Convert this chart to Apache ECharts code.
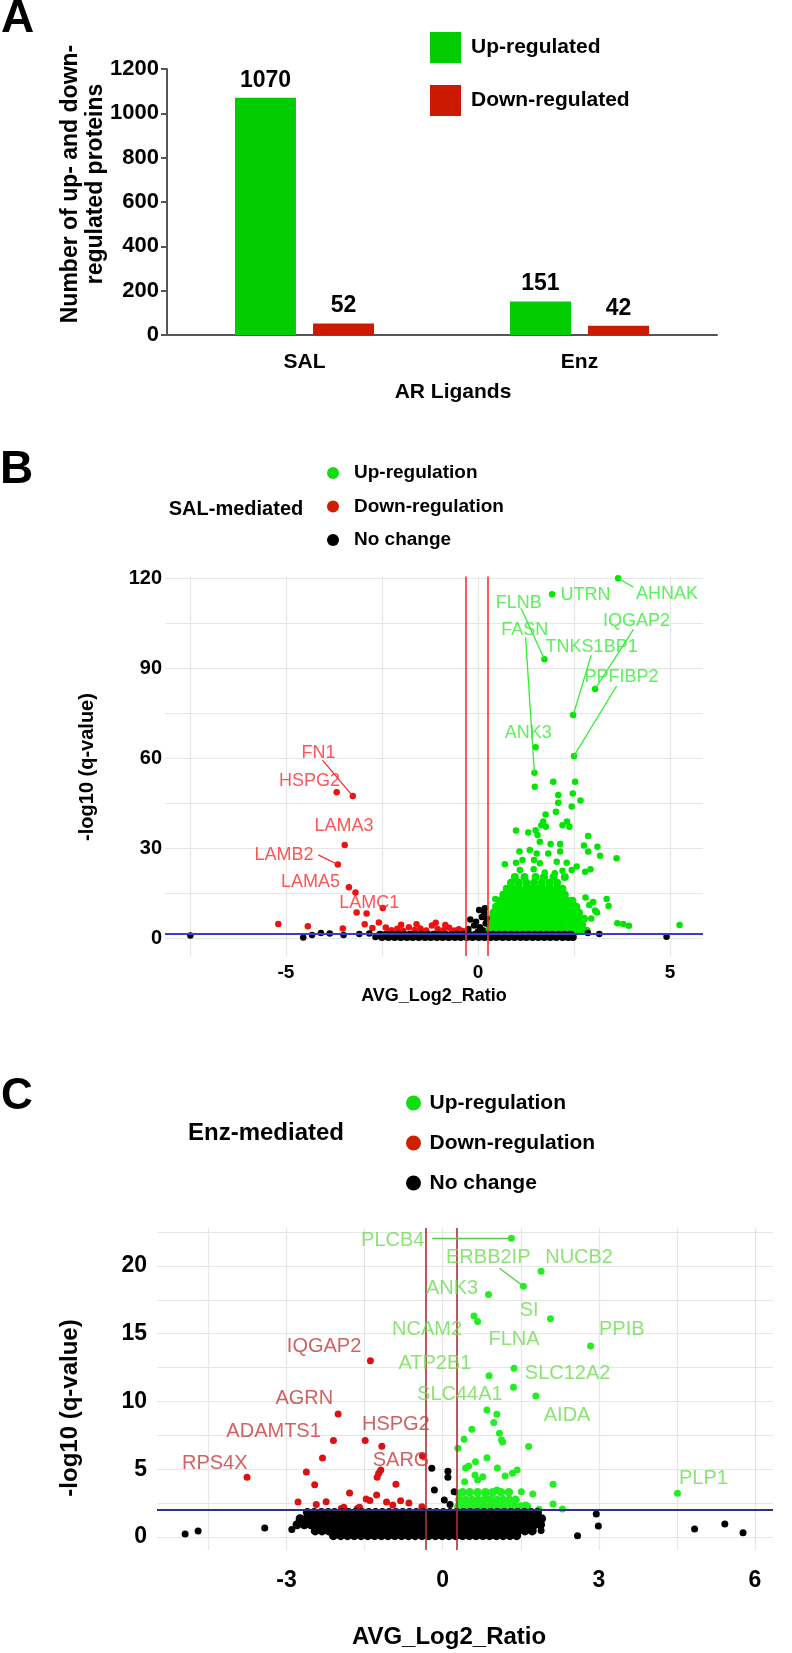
<!DOCTYPE html>
<html>
  <head>
    <meta charset="utf-8" />
    <title>AR ligand proteomics</title>
    <script src="https://cdn.jsdelivr.net/npm/echarts@6.0.0/dist/echarts.min.js"></script>
    <style>
      html, body { margin: 0; padding: 0; overflow: hidden; background: #fff; }
      #main { width: 792px; height: 1653px; }
    </style>
  </head>
  <body>
    <div id="main"></div>
    <script type="text/javascript">
      // ---- panel A : counts ----
      var ligands = ["SAL", "Enz"];
      var upCounts = [1070, 151];
      var downCounts = [52, 42];

      // ---- panel B : SAL volcano ----
      var upB = [
        [3.65, 119.9], [1.93, 114.6], [1.73, 92.9], [3.05, 83.0], [2.48, 74.3], [1.5, 63.6], [2.5, 60.7], [1.47, 55.1],
        [1.48, 50.4], [1.96, 52.1], [2.53, 52.1], [2.47, 48.2], [2.09, 47.7], [2.09, 45.1], [2.67, 45.8], [2.44, 43.8],
        [2.03, 42.1], [1.76, 41.2], [1.7, 38.8], [1.77, 37.1], [1.65, 37.6], [2.38, 37.1], [2.2, 37.6], [2.32, 38.8],
        [0.99, 35.8], [1.31, 35.2], [1.5, 35.9], [1.55, 34.3], [1.61, 32.1], [1.89, 31.3], [2.14, 31.3], [2.87, 34.0],
        [2.76, 30.8], [3.11, 30.4], [2.87, 28.8], [3.18, 27.4], [3.61, 26.6], [1.08, 28.8], [1.35, 29.3], [1.53, 28.2],
        [1.83, 28.2], [2.14, 28.8], [0.7, 24.6], [0.99, 25.1], [1.16, 26.0], [1.46, 26.0], [1.61, 24.9], [2.05, 25.4],
        [2.31, 25.1], [2.57, 23.8], [2.93, 22.9], [2.79, 22.1], [1.09, 22.7], [1.45, 22.9], [1.74, 21.8], [2.0, 21.6],
        [2.2, 22.4], [2.44, 22.7], [3.35, 13.0], [3.4, 10.7], [3.63, 4.9], [3.78, 4.7], [3.93, 4.1], [5.25, 4.3],
        [3.1, 8.5], [3.0, 12.0], [0.45, 13.0], [2.8, 13.5], [2.9, 11.0], [3.05, 9.2], [2.95, 6.5]
      ];
      var upBlobB = [
        [2.4, [0.27, 0.43, 0.58, 0.75, 0.9, 1.07, 1.22, 1.39, 1.54, 1.71, 1.86, 2.03, 2.18, 2.35, 2.5, 2.67, 2.83]],
        [4.4, [0.3, 0.47, 0.62, 0.79, 0.94, 1.11, 1.26, 1.43, 1.58, 1.75, 1.9, 2.07, 2.22, 2.39, 2.54, 2.71]],
        [6.4, [0.34, 0.5, 0.66, 0.82, 0.97, 1.14, 1.29, 1.46, 1.61, 1.78, 1.93, 2.1, 2.25, 2.42, 2.58, 2.76]],
        [8.4, [0.4, 0.56, 0.73, 0.88, 1.05, 1.2, 1.37, 1.52, 1.69, 1.84, 2.01, 2.16, 2.33, 2.48, 2.63]],
        [10.4, [0.47, 0.63, 0.79, 0.95, 1.11, 1.27, 1.43, 1.59, 1.75, 1.91, 2.07, 2.23, 2.39, 2.56]],
        [12.4, [0.56, 0.72, 0.88, 1.04, 1.2, 1.36, 1.52, 1.68, 1.84, 2.0, 2.16, 2.32, 2.46]],
        [14.4, [0.66, 0.82, 0.98, 1.14, 1.3, 1.46, 1.62, 1.78, 1.94, 2.1, 2.26]],
        [16.4, [0.75, 0.92, 1.07, 1.24, 1.39, 1.56, 1.71, 1.88, 2.03, 2.2]],
        [18.4, [0.86, 1.06, 1.26, 1.46, 1.66, 1.86, 2.06]],
        [20.3, [0.96, 1.21, 1.5, 1.72, 1.97, 2.26]]
      ];
      var downB = [
        [-3.68, 48.6], [-3.26, 47.3], [-3.47, 31.0], [-3.65, 24.5], [-3.36, 16.9], [-3.19, 15.2], [-2.48, 10.0],
        [-3.16, 8.5], [-2.9, 8.2], [-2.95, 4.6], [-2.58, 5.2], [-2.75, 3.3], [-5.2, 4.7], [-4.43, 3.9], [-3.52, 3.2],
        [-2.4, 3.5], [-2.25, 2.6], [-2.1, 3.1], [-1.95, 2.4], [-1.8, 3.6], [-1.65, 2.7], [-1.5, 3.2], [-1.35, 2.5],
        [-1.2, 4.2], [-1.05, 3.0], [-0.9, 2.6], [-0.75, 3.4], [-0.62, 2.5], [-0.5, 2.9], [-2.0, 4.4], [-1.6, 4.6],
        [-1.1, 5.1], [-0.85, 4.3], [-2.3, 2.2], [-1.45, 2.1], [-0.4, 2.3]
      ];
      var noneB = [
        [-7.49, 0.8], [-4.55, 0.2], [-4.32, 1.0], [-4.09, 1.7], [-3.86, 1.5], [-3.5, 1.0], [-3.09, 1.3], [-2.83, 1.5],
        [-2.67, 0.3], [2.86, 1.7], [3.16, 1.3], [4.91, 0.4], [-0.2, 6.2], [0.03, 9.3], [0.16, 8.3], [-0.05, 5.4],
        [0.1, 7.0], [0.18, 9.9], [-0.1, 4.2], [0.05, 3.6], [0.2, 4.8], [-0.25, 3.0], [0.12, 2.6], [0.22, 6.5], [0.0, 2.2]
      ];
      var noneBandB = [
        [1.1, [-2.55, -2.4, -2.24, -2.09, -1.93, -1.78, -1.62, -1.47, -1.31, -1.16, -1.0, -0.85, -0.69, -0.54, -0.38, -0.23, -0.07,
               0.08, 0.24, 0.39, 0.55, 0.7, 0.86, 1.01, 1.17, 1.32, 1.48, 1.63, 1.79, 1.94, 2.1, 2.25, 2.41]],
        [0.3, [-2.5, -2.33, -2.17, -2.01, -1.85, -1.7, -1.54, -1.38, -1.23, -1.07, -0.92, -0.76, -0.6, -0.45, -0.29, -0.14, 0.02,
               0.17, 0.33, 0.48, 0.64, 0.8, 0.95, 1.11, 1.26, 1.42, 1.57, 1.73, 1.88, 2.04, 2.2, 2.35, 2.47]]
      ];
      var geneB = ["AHNAK", "UTRN", "FLNB", "IQGAP2", "FASN", "TNKS1BP1", "PPFIBP2", "ANK3",
                   "FN1", "HSPG2", "LAMA3", "LAMB2", "LAMA5", "LAMC1"];
      var geneBX = [4.92, 2.8, 1.06, 4.13, 1.22, 2.96, 3.74, 1.31, -4.15, -4.39, -3.49, -5.05, -4.36, -2.83];
      var geneBY = [114.6, 114.3, 111.8, 105.8, 102.7, 97.1, 87.1, 68.2, 61.7, 52.2, 37.3, 27.7, 18.8, 11.8];
      var geneBUp = 8; // first 8 names are up-regulated
      var linkB = [
        [[4.05, 116.9], [3.65, 119.9]], [[1.12, 109.9], [1.73, 92.9]], [[4.05, 102.9], [3.05, 83.0]],
        [[1.24, 100.2], [1.47, 55.1]], [[2.95, 94.3], [2.48, 74.3]], [[3.61, 84.0], [2.5, 60.7]],
        [[-4.05, 59.3], [-3.26, 47.3]], [[-4.16, 27.7], [-3.65, 24.5]]
      ];
      var linkBUp = 6;
      var gridXB = [-7.5, -5, -2.5, 0, 2.5, 5];
      var gridYB = [0, 15, 30, 45, 60, 75, 90, 105, 120];
      var tickXB = [-5, 0, 5];
      var tickYB = [0, 30, 60, 90, 120];
      var qCutB = 1.3;

      // ---- panel C : Enz volcano ----
      var upC = [
        [1.32, 22.05], [1.89, 19.6], [1.55, 18.5], [0.88, 17.9], [2.07, 16.1], [0.6, 16.3], [0.67, 15.9], [2.84, 14.1],
        [1.37, 12.45], [0.89, 11.9], [1.36, 11.05], [1.79, 10.4], [0.85, 9.37], [1.04, 9.06], [0.98, 8.44], [1.09, 7.65],
        [1.13, 7.16], [0.56, 7.95], [0.41, 7.21], [1.65, 6.67], [0.29, 6.55], [0.63, 5.56], [0.85, 5.85], [0.44, 5.09],
        [1.05, 5.09], [1.43, 4.94], [1.15, 7.0], [0.5, 5.24], [0.62, 4.58], [0.77, 4.45], [1.2, 4.5], [1.34, 4.7],
        [0.42, 4.08], [0.67, 4.2], [2.12, 3.9], [1.04, 3.47], [1.51, 3.34], [1.73, 3.17], [0.29, 3.24], [0.83, 3.1],
        [0.98, 2.73], [2.12, 2.44], [2.3, 2.07], [1.85, 2.05], [1.59, 2.36], [4.51, 3.22]
      ];
      var upBlobC = [
        [2.25, [0.3, 0.42, 0.54, 0.66, 0.78, 0.9, 1.02, 1.14, 1.26, 1.38, 1.5, 1.62]],
        [2.75, [0.32, 0.44, 0.56, 0.68, 0.8, 0.92, 1.04, 1.16, 1.28, 1.4]],
        [3.3, [0.38, 0.52, 0.67, 0.82, 0.96, 1.12, 1.27]]
      ];
      var downC = [
        [-3.76, 4.4], [-2.01, 9.08], [-2.1, 7.12], [-2.31, 5.83], [-2.62, 4.8], [-2.46, 3.85], [-1.79, 3.25], [-2.78, 2.58],
        [-2.43, 2.4], [-2.24, 2.6], [-1.9, 2.2], [-1.39, 13.0], [-1.49, 7.12], [-1.17, 6.7], [-1.19, 4.95], [-1.26, 4.4],
        [-0.9, 3.9], [-1.27, 3.1], [-1.4, 2.7], [-1.6, 2.2], [-1.08, 2.58], [-0.39, 5.98], [-0.81, 2.68], [-0.65, 2.5],
        [-0.4, 2.24], [-0.96, 2.36], [-1.23, 4.7], [-1.47, 2.8], [-1.95, 2.1], [-1.64, 2.1]
      ];
      var noneC = [
        [-4.95, 0.22], [-4.7, 0.45], [-3.42, 0.66], [-2.9, 0.56], [-2.72, 1.14], [-2.6, 1.8], [-2.38, 1.8], [-0.21, 5.07],
        [0.1, 4.85], [0.1, 4.4], [-0.16, 3.47], [0.03, 2.73], [0.22, 3.34], [0.14, 2.4], [2.95, 1.7], [2.99, 0.81],
        [2.59, 0.1], [1.89, 0.47], [4.84, 0.59], [5.42, 0.96], [5.77, 0.32]
      ];
      var noneBlobC = [
        [1.8, [-2.6, -2.47, -2.33, -2.2, -2.08, -1.94, -1.81, -1.68, -1.55, -1.42, -1.29, -1.16, -1.03, -0.9, -0.77, -0.64, -0.51,
               -0.38, -0.25, -0.12, 0.01, 0.14, 0.27, 0.4, 0.53, 0.66, 0.79, 0.92, 1.05, 1.18, 1.31, 1.44, 1.57, 1.7, 1.82]],
        [1.35, [-2.74, -2.61, -2.48, -2.35, -2.22, -2.09, -1.96, -1.83, -1.7, -1.57, -1.44, -1.31, -1.18, -1.05, -0.92, -0.79, -0.66,
                -0.53, -0.4, -0.27, -0.14, -0.01, 0.12, 0.25, 0.38, 0.51, 0.64, 0.77, 0.9, 1.03, 1.16, 1.29, 1.42, 1.55, 1.68, 1.81, 1.9]],
        [0.9, [-2.8, -2.66, -2.53, -2.4, -2.27, -2.14, -2.01, -1.88, -1.75, -1.62, -1.49, -1.36, -1.23, -1.1, -0.97, -0.84, -0.71,
               -0.58, -0.45, -0.32, -0.19, -0.06, 0.07, 0.2, 0.33, 0.46, 0.59, 0.72, 0.85, 0.98, 1.11, 1.24, 1.37, 1.5, 1.63, 1.76, 1.88]],
        [0.45, [-2.45, -2.32, -2.19, -2.06, -1.93, -1.8, -1.67, -1.54, -1.41, -1.28, -1.15, -1.02, -0.89, -0.76, -0.63, -0.5, -0.37,
                -0.24, -0.11, 0.02, 0.15, 0.28, 0.41, 0.54, 0.67, 0.8, 0.93, 1.06, 1.19, 1.32, 1.45, 1.58, 1.72]],
        [0.1, [-2.1, -1.96, -1.83, -1.7, -1.57, -1.44, -1.31, -1.18, -1.05, -0.92, -0.79, -0.66, -0.53, -0.4, -0.27, -0.14, -0.01,
               0.12, 0.25, 0.38, 0.51, 0.64, 0.77, 0.9, 1.03, 1.16, 1.29, 1.42]]
      ];
      var geneC = ["PLCB4", "ERBB2IP", "NUCB2", "ANK3", "SI", "NCAM2", "FLNA", "PPIB", "ATP2B1", "SLC12A2", "SLC44A1", "AIDA", "PLP1",
                   "IQGAP2", "AGRN", "ADAMTS1", "HSPG2", "SARG", "RPS4X"];
      var geneCX = [-0.96, 0.875, 2.62, 0.18, 1.66, -0.3, 1.37, 3.44, -0.15, 2.4, 0.33, 2.39, 5.01, -2.28, -2.66, -3.25, -0.9, -0.8, -4.38];
      var geneCY = [21.9, 20.6, 20.66, 18.35, 16.75, 15.3, 14.6, 15.3, 12.8, 12.1, 10.5, 9.0, 4.33, 14.05, 10.2, 7.8, 8.27, 5.68, 5.44];
      var geneCUp = 13;
      var linkC = [[[-0.2, 22.05], [1.32, 22.05]], [[1.09, 19.83], [1.55, 18.5]]];
      var gridXC = [-4.5, -3, -1.5, 0, 1.5, 3, 4.5, 6];
      var gridYC = [0, 2.5, 5, 7.5, 10, 12.5, 15, 17.5, 20, 22.5];
      var tickXC = [-3, 0, 3, 6];
      var tickYC = [0, 5, 10, 15, 20];
      var qCutC = 2;

      var foldCut = [-0.322, 0.263];

      // ---- helpers ----
      var FONT = "Liberation Sans, Arial, sans-serif";
      function rows(list) {
        var out = [];
        list.forEach(function (r) {
          r[1].forEach(function (x) { out.push([x, r[0]]); });
        });
        return out;
      }
      function gridLines(xs, ys) {
        var d = [];
        xs.forEach(function (v) { d.push({ xAxis: v }); });
        ys.forEach(function (v) { d.push({ yAxis: v }); });
        return d;
      }
      // markLine has its own z (default 5), so it is passed explicitly
      function plainMark(data, color, width, z) {
        return {
          silent: true,
          z: z,
          symbol: ["none", "none"],
          label: { show: false },
          emphasis: { disabled: true },
          animation: false,
          lineStyle: { type: "solid", color: color, width: width },
          data: data
        };
      }
      function labelData(names, xs, ys, nUp, upColor, downColor) {
        return names.map(function (n, i) {
          return { name: n, value: [xs[i], ys[i]], label: { color: i < nUp ? upColor : downColor } };
        });
      }
      function linkData(links, nUp, upColor, downColor) {
        return links.map(function (l, i) {
          return [{ coord: l[0], lineStyle: { color: i < nUp ? upColor : downColor, width: 1.3 } }, { coord: l[1] }];
        });
      }
      function text(str, x, y, size, opts) {
        opts = opts || {};
        return {
          type: "text",
          x: x,
          y: y,
          rotation: opts.rotation || 0,
          silent: true,
          style: {
            text: str,
            x: 0,
            y: 0,
            fill: "#000",
            font: "bold " + size + "px " + FONT,
            textAlign: opts.align || "center",
            textVerticalAlign: "middle",
            lineHeight: opts.lineHeight || size
          }
        };
      }
      // one scatter layer of a volcano panel
      function dots(name, axis, data, color, size, z) {
        return {
          name: name, type: "scatter", xAxisIndex: axis, yAxisIndex: axis, z: z,
          data: data, symbolSize: size,
          itemStyle: { color: color, opacity: 1, borderWidth: 0 }
        };
      }

      var myChart = echarts.init(document.getElementById("main"), null, { renderer: "canvas" });

      var axisText = { color: "#000", fontWeight: "bold", fontFamily: FONT };
      var plainNum = function (v) { return String(v); };

      var option = {
        animation: false,
        backgroundColor: "#fff",
        textStyle: { fontFamily: FONT },
        grid: [
          { left: 167, right: 75, top: 69, bottom: 1318 },
          { left: 165, right: 89, top: 576.5, bottom: 697 },
          { left: 157, right: 19, top: 1228, bottom: 103 }
        ],
        xAxis: [
          {
            gridIndex: 0, type: "category", data: ligands,
            axisLine: { lineStyle: { color: "#555", width: 2 } },
            axisTick: { show: false },
            axisLabel: Object.assign({ fontSize: 21, margin: 17 }, axisText)
          },
          {
            gridIndex: 1, type: "value", min: -8.15, max: 5.86,
            axisLine: { show: false }, axisTick: { show: false }, splitLine: { show: false },
            axisLabel: Object.assign({ fontSize: 19, margin: 7, customValues: tickXB, formatter: plainNum }, axisText)
          },
          {
            gridIndex: 2, type: "value", min: -5.49, max: 6.346,
            axisLine: { show: false }, axisTick: { show: false }, splitLine: { show: false },
            axisLabel: Object.assign({ fontSize: 23, margin: 19, customValues: tickXC, formatter: plainNum }, axisText)
          }
        ],
        yAxis: [
          {
            gridIndex: 0, type: "value", min: 0, max: 1200, interval: 200,
            axisLine: { show: true, lineStyle: { color: "#555", width: 2 } },
            axisTick: { show: true, length: 6, lineStyle: { color: "#555", width: 2 } },
            splitLine: { show: false },
            axisLabel: Object.assign({ fontSize: 22, margin: 8, formatter: plainNum }, axisText)
          },
          {
            gridIndex: 1, type: "value", min: -6, max: 120.5,
            axisLine: { show: false }, axisTick: { show: false }, splitLine: { show: false },
            axisLabel: Object.assign({ fontSize: 20, margin: 3, customValues: tickYB, formatter: plainNum }, axisText)
          },
          {
            gridIndex: 2, type: "value", min: -0.96, max: 22.8,
            axisLine: { show: false }, axisTick: { show: false }, splitLine: { show: false },
            axisLabel: Object.assign({ fontSize: 23, margin: 10, customValues: tickYC, formatter: plainNum }, axisText)
          }
        ],
        legend: [
          {
            data: ["Up-regulated", "Down-regulated"],
            orient: "vertical", left: 430, top: 32, padding: 0,
            icon: "rect", itemWidth: 31, itemHeight: 31, itemGap: 22,
            selectedMode: false,
            textStyle: { fontSize: 21, fontWeight: "bold", color: "#000", padding: [0, 0, 0, 5] }
          },
          {
            data: [
              { name: "Up-regulation", itemStyle: { color: "#11dd11" } },
              { name: "Down-regulation", itemStyle: { color: "#cc2200" } },
              { name: "No change", itemStyle: { color: "#000" } }
            ],
            orient: "vertical", left: 327, top: 463, padding: 0,
            icon: "circle", itemWidth: 32, itemHeight: 12, itemGap: 13.5,
            selectedMode: false,
            textStyle: { fontSize: 19, fontWeight: "bold", color: "#000", lineHeight: 20 }
          },
          {
            data: [
              { name: "Up-regulation", itemStyle: { color: "#11dd11" } },
              { name: "Down-regulation", itemStyle: { color: "#cc2200" } },
              { name: "No change", itemStyle: { color: "#000" } }
            ],
            orient: "vertical", left: 406, top: 1092, padding: 0,
            icon: "circle", itemWidth: 22, itemHeight: 15, itemGap: 18,
            selectedMode: false,
            textStyle: { fontSize: 21, fontWeight: "bold", color: "#000", lineHeight: 22 }
          }
        ],
        graphic: [
          text("A", 1, 19, 46, { align: "left" }),
          text("B", 0, 470, 46, { align: "left" }),
          text("C", 1, 1097, 44, { align: "left" }),
          text("Number of up- and down-\nregulated proteins", 83, 184, 23, { rotation: Math.PI / 2, lineHeight: 25 }),
          text("AR Ligands", 453, 392, 21),
          text("SAL-mediated", 236, 509, 20),
          text("-log10 (q-value)", 87, 767, 20, { rotation: Math.PI / 2 }),
          text("AVG_Log2_Ratio", 434, 996, 18),
          text("Enz-mediated", 266, 1133, 24),
          text("-log10 (q-value)", 70, 1408, 24, { rotation: Math.PI / 2 }),
          text("AVG_Log2_Ratio", 449, 1637, 24)
        ],
        series: [
          // panel A
          {
            name: "Up-regulated", type: "bar", xAxisIndex: 0, yAxisIndex: 0,
            data: upCounts, barWidth: 61, barGap: "28%",
            itemStyle: { color: "#00cc00" },
            label: { show: true, position: "top", distance: 6, fontSize: 23, fontWeight: "bold", color: "#000" }
          },
          {
            name: "Down-regulated", type: "bar", xAxisIndex: 0, yAxisIndex: 0,
            data: downCounts, barWidth: 61,
            itemStyle: { color: "#cc1a00" },
            label: { show: true, position: "top", distance: 6, fontSize: 23, fontWeight: "bold", color: "#000" }
          },

          // panel B
          {
            type: "scatter", xAxisIndex: 1, yAxisIndex: 1, data: [], z: 1, silent: true,
            markLine: plainMark(gridLines(gridXB, gridYB), "#e6e6e6", 1.2, 1)
          },
          dots("Down-regulation", 1, downB, "#ee1111", 6.5, 3),
          dots("Up-regulation", 1, upB, "#00e600", 6.5, 3),
          dots("Up-regulation", 1, rows(upBlobB), "#00e600", 8, 3),
          dots("No change", 1, noneB, "#000", 6.5, 4),
          dots("No change", 1, rows(noneBandB), "#000", 8, 4),
          {
            type: "scatter", xAxisIndex: 1, yAxisIndex: 1, z: 7, silent: true,
            data: labelData(geneB, geneBX, geneBY, geneBUp, "#33ee33", "#ff2a2a"),
            symbolSize: 1, itemStyle: { color: "rgba(0,0,0,0)", borderWidth: 0 },
            label: { show: true, position: "inside", formatter: "{b}", fontSize: 18, fontFamily: FONT },
            markLine: plainMark(linkData(linkB, linkBUp, "#33ee33", "#ff2a2a"), "#33ee33", 1.3, 6)
          },
          {
            type: "scatter", xAxisIndex: 1, yAxisIndex: 1, data: [], z: 5, silent: true,
            markLine: plainMark(
              [{ xAxis: foldCut[0], lineStyle: { color: "#ff3030", width: 1.6 } },
               { xAxis: foldCut[1], lineStyle: { color: "#ff3030", width: 1.6 } },
               { yAxis: qCutB, lineStyle: { color: "#3a3ad8", width: 1.8 } }],
              "#ff3030", 1.6, 5)
          },

          // panel C
          {
            type: "scatter", xAxisIndex: 2, yAxisIndex: 2, data: [], z: 1, silent: true,
            markLine: plainMark(gridLines(gridXC, gridYC), "#e6e6e6", 1.2, 1)
          },
          dots("Down-regulation", 2, downC, "#dd1111", 7, 3),
          dots("Up-regulation", 2, upC, "#22ee22", 7, 3),
          dots("Up-regulation", 2, rows(upBlobC), "#22ee22", 8.5, 3),
          dots("No change", 2, noneC, "#000", 7, 4),
          dots("No change", 2, rows(noneBlobC), "#000", 9, 4),
          {
            type: "scatter", xAxisIndex: 2, yAxisIndex: 2, z: 7, silent: true,
            data: labelData(geneC, geneCX, geneCY, geneCUp, "#6edc50", "#c83a3a"),
            symbolSize: 1, itemStyle: { color: "rgba(0,0,0,0)", borderWidth: 0 },
            label: { show: true, position: "inside", formatter: "{b}", fontSize: 20, fontFamily: FONT },
            markLine: plainMark(linkData(linkC, linkC.length, "#55cc44", "#c83a3a"), "#55cc44", 1.5, 6)
          },
          {
            type: "scatter", xAxisIndex: 2, yAxisIndex: 2, data: [], z: 5, silent: true,
            markLine: plainMark(
              [{ xAxis: foldCut[0], lineStyle: { color: "#a83232", width: 1.6 } },
               { xAxis: foldCut[1], lineStyle: { color: "#a83232", width: 1.6 } },
               { yAxis: qCutC, lineStyle: { color: "#2e2e8c", width: 1.8 } }],
              "#a83232", 1.6, 5)
          }
        ]
      };

      myChart.setOption(option);
    </script>
  </body>
</html>
